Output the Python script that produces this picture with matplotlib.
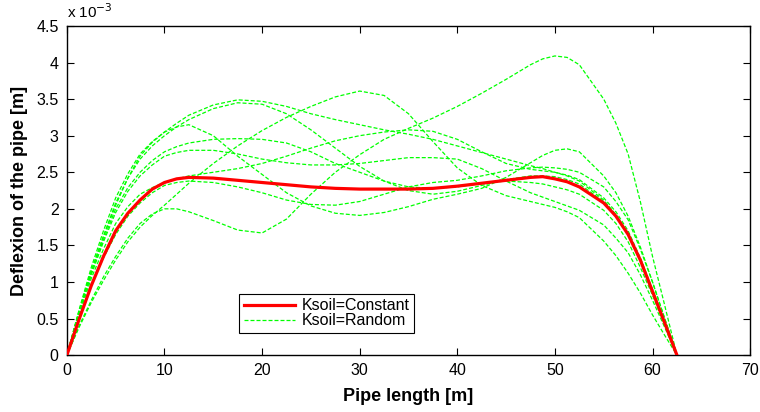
import numpy as np
import matplotlib
matplotlib.use("Agg")
import matplotlib.pyplot as plt

plt.rcParams['font.family'] = ['Liberation Sans', 'DejaVu Sans']

# pipe positions [m]
pipe_x = [0, 1.25, 2.5, 3.75, 5, 6.25, 7.5, 8.75, 10, 11.25, 12.5, 15, 17.5, 20, 22.5,
          25, 27.5, 30, 32.5, 35, 37.5, 40, 42.5, 45, 47.5, 48.75, 50, 51.25, 52.5, 55,
          56.25, 57.5, 58.75, 60, 61.25, 62.5]

# deflexion, units of 1e-3 m
ksoil_const = [0, 0.49, 0.95, 1.35, 1.7, 1.94, 2.12, 2.27, 2.36, 2.41, 2.43, 2.42, 2.39,
               2.36, 2.33, 2.30, 2.28, 2.27, 2.27, 2.27, 2.28, 2.31, 2.35, 2.39, 2.43, 2.44,
               2.41, 2.37, 2.3, 2.08, 1.9, 1.65, 1.3, 0.87, 0.44, 0]

rand_a = [0, 0.4, 0.75, 1.07, 1.35, 1.6, 1.8, 1.93, 2.0, 2.0, 1.96, 1.84, 1.71, 1.67, 1.86,
          2.2, 2.5, 2.74, 2.95, 3.1, 3.24, 3.4, 3.58, 3.77, 3.97, 4.05, 4.09, 4.07, 3.97,
          3.5, 3.17, 2.75, 2.1, 1.35, 0.68, 0]
rand_b = [0, 0.38, 0.72, 1.02, 1.3, 1.55, 1.75, 1.91, 2.05, 2.2, 2.35, 2.62, 2.86, 3.07,
          3.25, 3.4, 3.53, 3.61, 3.55, 3.3, 2.92, 2.56, 2.32, 2.18, 2.1, 2.06, 2.02, 1.96,
          1.88, 1.56, 1.36, 1.12, 0.85, 0.55, 0.27, 0]
rand_c = [0, 0.6, 1.15, 1.62, 2.05, 2.42, 2.72, 2.91, 3.05, 3.12, 3.15, 3.0, 2.72, 2.47,
          2.22, 2.04, 1.94, 1.91, 1.95, 2.03, 2.13, 2.2, 2.28, 2.43, 2.63, 2.73, 2.8, 2.82,
          2.78, 2.45, 2.22, 1.9, 1.48, 1.0, 0.5, 0]
rand_d = [0, 0.62, 1.2, 1.7, 2.15, 2.48, 2.75, 2.92, 3.05, 3.17, 3.28, 3.42, 3.49, 3.47,
          3.4, 3.3, 3.22, 3.15, 3.08, 3.02, 2.95, 2.86, 2.77, 2.68, 2.59, 2.55, 2.5, 2.45,
          2.38, 2.12, 1.92, 1.66, 1.3, 0.88, 0.44, 0]
rand_e = [0, 0.6, 1.15, 1.63, 2.08, 2.42, 2.68, 2.86, 3.0, 3.12, 3.22, 3.37, 3.45, 3.43,
          3.3, 3.08, 2.83, 2.58, 2.38, 2.25, 2.2, 2.24, 2.32, 2.4, 2.45, 2.45, 2.44, 2.4,
          2.34, 2.1, 1.92, 1.66, 1.3, 0.88, 0.44, 0]
rand_f = [0, 0.55, 1.05, 1.45, 1.8, 2.03, 2.2, 2.29, 2.36, 2.41, 2.45, 2.5, 2.55, 2.62,
          2.72, 2.83, 2.93, 3.0, 3.05, 3.08, 3.06, 2.95, 2.78, 2.62, 2.54, 2.52, 2.5, 2.46,
          2.4, 2.15, 1.96, 1.7, 1.33, 0.9, 0.45, 0]
rand_g = [0, 0.58, 1.12, 1.58, 2.0, 2.29, 2.5, 2.66, 2.78, 2.85, 2.9, 2.95, 2.96, 2.95,
          2.9, 2.78, 2.62, 2.5, 2.38, 2.3, 2.28, 2.3, 2.35, 2.38, 2.36, 2.34, 2.3, 2.26,
          2.2, 1.98, 1.8, 1.55, 1.2, 0.82, 0.41, 0]
rand_h = [0, 0.57, 1.1, 1.55, 1.95, 2.24, 2.45, 2.6, 2.72, 2.77, 2.8, 2.8, 2.75, 2.68,
          2.63, 2.6, 2.6, 2.62, 2.66, 2.7, 2.7, 2.68, 2.55, 2.38, 2.22, 2.16, 2.1, 2.04,
          1.98, 1.78, 1.6, 1.4, 1.1, 0.75, 0.38, 0]
rand_i = [0, 0.5, 0.97, 1.33, 1.65, 1.9, 2.08, 2.22, 2.32, 2.36, 2.38, 2.36, 2.3, 2.22,
          2.12, 2.06, 2.05, 2.1, 2.2, 2.3, 2.36, 2.39, 2.45, 2.52, 2.56, 2.57, 2.56, 2.54,
          2.5, 2.3, 2.1, 1.85, 1.45, 1.0, 0.5, 0]

random_runs = [rand_a, rand_b, rand_c, rand_d, rand_e, rand_f, rand_g, rand_h, rand_i]

fig = plt.figure(figsize=(7.6, 4.12), dpi=100)
ax = fig.add_axes([0.088, 0.138, 0.899, 0.799])

h_const, = ax.plot(pipe_x, ksoil_const, color='#ff0000', lw=2.3, zorder=3)
for run in random_runs:
    h_rand, = ax.plot(pipe_x, run, color='#00ff00', lw=0.9, dashes=(3.2, 1.6), zorder=2)

ax.set_xlim(0, 70)
ax.set_ylim(0, 4.5)
ax.set_xticks(np.arange(0, 71, 10))
ax.set_yticks(np.arange(0, 4.51, 0.5))
ax.set_yticklabels(['0', '0.5', '1', '1.5', '2', '2.5', '3', '3.5', '4', '4.5'])
ax.tick_params(direction='in', top=True, right=True, length=5, width=0.8,
               labelsize=11.5, pad=6)
for s in ax.spines.values():
    s.set_linewidth(1.0)

ax.text(0, 1.015, r'x 10$^{-3}$', transform=ax.transAxes, fontsize=11,
        ha='left', va='bottom')
ax.set_xlabel('Pipe length [m]', fontsize=13, fontweight='bold', labelpad=7)
ax.set_ylabel('Deflexion of the pipe [m]', fontsize=13, fontweight='bold', labelpad=6)

leg = ax.legend([h_const, h_rand], ['Ksoil=Constant', 'Ksoil=Random'],
                loc='lower left', bbox_to_anchor=(0.252, 0.067), borderaxespad=0,
                fancybox=False, edgecolor='black', fontsize=11.5, handlelength=3.2,
                handletextpad=0.4, borderpad=0.3, labelspacing=0.0, framealpha=1)
leg.get_frame().set_linewidth(0.8)

fig.savefig('out.png', dpi=100)
